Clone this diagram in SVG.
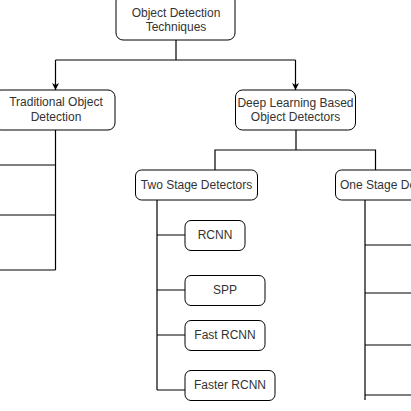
<svg xmlns="http://www.w3.org/2000/svg" width="411" height="411" viewBox="0 0 411 411">
<defs>
<style>
.box{fill:#fff;stroke:#000;stroke-width:1}
.t{font-family:"Liberation Sans",Arial,sans-serif;font-size:12px;fill:#333;text-anchor:middle}
.c{fill:none;stroke:#000;stroke-width:1.2}
</style>
<marker id="ah" viewBox="0 0 10 10" refX="10" refY="5" markerWidth="7" markerHeight="7" orient="auto" markerUnits="userSpaceOnUse">
<path d="M0,0 L10,5 L0,10 L3,5 Z" fill="#000"/>
</marker>
</defs>
<rect width="411" height="411" fill="#fff"/>
<g id="connectors">
<path class="c" d="M176,40 V60"/>
<path class="c" d="M55.5,60 H295.5"/>
<path class="c" d="M55.5,60 V90" marker-end="url(#ah)"/>
<path class="c" d="M295.5,60 V90" marker-end="url(#ah)"/>
<path class="c" d="M55.5,130 V270"/>
<path class="c" d="M0,165 H55.5 M0,215 H55.5 M0,270 H55.5"/>
<path class="c" d="M296,130 V150 M215,170 V150 H375.5 V170"/>
<path class="c" d="M157,200 V390"/>
<path class="c" d="M157,235 H185 M157,290 H185 M157,335 H185 M157,390 H185"/>
<path class="c" d="M365,200 V400"/>
<path class="c" d="M365,245 H411 M365,293 H411 M365,345 H411 M365,395 H411"/>
</g>
<g id="root">
<rect class="box" x="116" y="-6" width="119" height="46" rx="7"/>
<text class="t" x="176" y="17">Object Detection</text>
<text class="t" x="176" y="31">Techniques</text>
</g>
<g id="traditional">
<rect class="box" x="-6" y="90" width="121" height="40" rx="7"/>
<text class="t" x="56" y="106">Traditional Object</text>
<text class="t" x="56" y="121">Detection</text>
</g>
<g id="deep">
<rect class="box" x="235.5" y="90" width="120" height="40" rx="7"/>
<text class="t" x="295.5" y="107">Deep Learning Based</text>
<text class="t" x="295.5" y="121">Object Detectors</text>
</g>
<g id="twostage">
<rect class="box" x="135.5" y="170" width="122" height="30" rx="6"/>
<text class="t" x="196.5" y="189">Two Stage Detectors</text>
</g>
<g id="onestage">
<rect class="box" x="335.5" y="170" width="120" height="30" rx="6"/>
<text class="t" x="340" y="189" style="text-anchor:start">One Stage Detectors</text>
</g>
<g id="rcnn">
<rect class="box" x="185" y="220.5" width="60" height="30" rx="6"/>
<text class="t" x="215" y="239">RCNN</text>
</g>
<g id="spp">
<rect class="box" x="185" y="275.5" width="80" height="30" rx="6"/>
<text class="t" x="225" y="294">SPP</text>
</g>
<g id="fastrcnn">
<rect class="box" x="185" y="320.5" width="80" height="30" rx="6"/>
<text class="t" x="225" y="339">Fast RCNN</text>
</g>
<g id="fasterrcnn">
<rect class="box" x="185" y="370.5" width="90" height="30" rx="6"/>
<text class="t" x="230" y="389">Faster RCNN</text>
</g>
</svg>
